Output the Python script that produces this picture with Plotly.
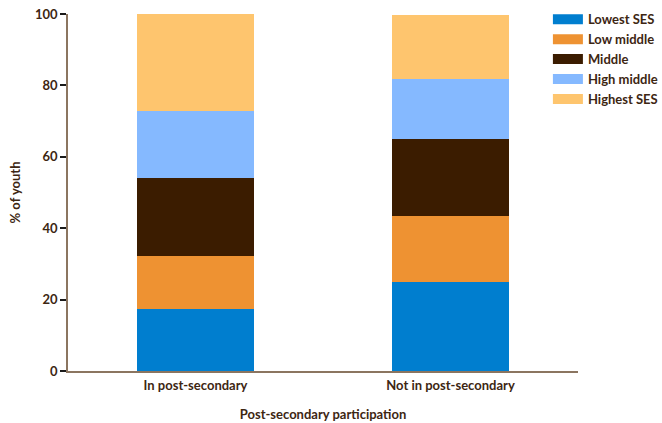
import plotly.graph_objects as go

categories = ["In post-secondary", "Not in post-secondary"]
series_names = ["Lowest SES", "Low middle", "Middle", "High middle", "Highest SES"]
lowest_ses = [17.5, 24.8]
low_middle = [14.7, 18.6]
middle = [21.8, 21.5]
high_middle = [18.7, 16.9]
highest_ses = [27.3, 18.0]
y_ticks = [0, 20, 40, 60, 80, 100]

colors = ["#007ECF", "#EE9232", "#3B1C00", "#85B9FF", "#FEC56E"]
series_values = [lowest_ses, low_middle, middle, high_middle, highest_ses]

TEXT = "#3D2612"
FONT = "Lato"
FS = 13

fig = go.Figure()
for name, vals, col in zip(series_names, series_values, colors):
    fig.add_trace(go.Bar(
        x=categories, y=vals, name=name, showlegend=False,
        marker=dict(color=col, line=dict(width=0)),
    ))
# legend swatches (wide rectangles like the reference)
for name, col in zip(series_names, colors):
    fig.add_trace(go.Scatter(
        x=[categories[0]], y=[None], name=name, mode="lines",
        line=dict(color=col, width=10), hoverinfo="skip",
    ))

fig.update_layout(
    barmode="stack",
    bargap=0.545,
    width=662, height=423,
    margin=dict(l=68, r=84, t=14, b=52, autoexpand=False),
    plot_bgcolor="white", paper_bgcolor="white",
    font=dict(family=FONT, size=FS, color=TEXT),
    legend=dict(
        traceorder="normal",
        x=0.941, y=1.027, xanchor="left", yanchor="top",
        font=dict(family=FONT, size=FS, color=TEXT, weight="bold"),
        bgcolor="rgba(0,0,0,0)",
        itemclick=False,
        tracegroupgap=0,
    ),
    xaxis=dict(
        automargin=False,
        showline=True, linecolor="#8B7560", linewidth=1.5,
        ticks="", showgrid=False,
        ticklabelstandoff=2,
        tickfont=dict(family=FONT, size=FS, color=TEXT, weight="bold"),
        title=dict(text="Post-secondary participation",
                   font=dict(family=FONT, size=FS, color=TEXT, weight="bold"),
                   standoff=18),
    ),
    yaxis=dict(
        automargin=False,
        range=[0, 100],
        tickvals=y_ticks,
        showline=True, linecolor="#8B7560", linewidth=1.5,
        ticks="outside", ticklen=6, tickwidth=2, tickcolor="#1A1A1A",
        showgrid=False, zeroline=False,
        tickfont=dict(family=FONT, size=FS, color=TEXT, weight="bold"),
    ),
    annotations=[dict(
        text="% of youth", textangle=-90, showarrow=False,
        xref="paper", yref="paper", x=-0.104, y=0.5,
        xanchor="center", yanchor="middle",
        font=dict(family=FONT, size=FS, color=TEXT, weight="bold"),
    )],
)

fig.write_html("out.html", config={"displayModeBar": False},
               post_script="document.body.style.margin='0';document.body.style.overflow='hidden';")
